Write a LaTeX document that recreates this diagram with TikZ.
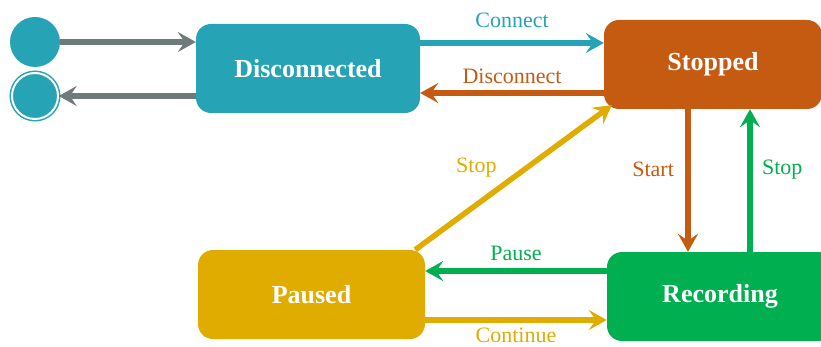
\documentclass[tikz,border=0pt]{standalone}
\usepackage{fontspec}
\setmainfont{Liberation Serif}
\usetikzlibrary{arrows.meta}

\definecolor{stateteal}{HTML}{26A3B5}
\definecolor{stateorange}{HTML}{C55A11}
\definecolor{stateyellow}{HTML}{E0AC00}
\definecolor{stategreen}{HTML}{00B050}
\definecolor{stategray}{HTML}{6F7B7A}

\begin{document}
\begin{tikzpicture}[
		x=1pt, y=-1pt,
		statebox/.style={
			rectangle,
			rounded corners=15pt,
			minimum height=89pt,
			text=white,
			font=\fontsize{26}{30}\selectfont\bfseries,
		},
		transition/.style={
			line width=5.5pt,
			-{Stealth[length=18pt, width=20pt, inset=7pt]},
		},
		tlabel/.style={
			font=\fontsize{22}{26}\selectfont,
		},
	]
		\useasboundingbox (0,0) rectangle (821,347);

		% start and end points
		\node[circle, fill=stateteal, minimum size=50pt, inner sep=0pt] (init) at (35,42) {};
		\node[circle, fill=stateteal, draw=stateteal, double=white, double distance=2pt,
			line width=1.5pt, minimum size=46pt, inner sep=0pt] (final) at (35,96) {};

		% states
		\node[statebox, fill=stateteal, minimum width=224pt] (disconnected) at (308,68.5) {Disconnected};
		\node[statebox, fill=stateorange, minimum width=218pt] (stopped) at (713,64.5) {Stopped};
		\node[statebox, fill=stateyellow, minimum width=227pt] (paused) at (311.5,294.5) {Paused};
		\node[statebox, fill=stategreen, minimum width=226pt] (recording) at (720,296.5) {Recording};

		% transitions
		\draw[transition, stategray] (init.east) -- ([yshift=26.5pt]disconnected.west);
		\draw[transition, stategray] ([yshift=-27.5pt]disconnected.west) -- (final.east);

		\draw[transition, stateteal] ([yshift=25.5pt]disconnected.east) -- ([yshift=21.5pt]stopped.west)
			node[tlabel, midway, above=9pt, text=stateteal] {Connect};
		\draw[transition, stateorange] ([yshift=-28.5pt]stopped.west) -- ([yshift=-24.5pt]disconnected.east)
			node[tlabel, midway, above=3pt, text=stateorange] {Disconnect};

		\draw[transition, stateorange] ([xshift=-25pt]stopped.south) -- ([xshift=-32pt]recording.north)
			node[tlabel, pos=0.42, left=8pt, text=stateorange] {Start};
		\draw[transition, stategreen] ([xshift=30pt]recording.north) -- ([xshift=37pt]stopped.south)
			node[tlabel, pos=0.58, right=6pt, text=stategreen] {Stop};

		\draw[transition, stategreen] ([yshift=25.5pt]recording.west) -- ([yshift=23.5pt]paused.east)
			node[tlabel, midway, above=4pt, text=stategreen] {Pause};
		\draw[transition, stateyellow] ([yshift=-25.5pt]paused.east) -- ([yshift=-23.5pt]recording.west)
			node[tlabel, midway, below=2pt, text=stateyellow] {Continue};

		\draw[transition, stateyellow] ([xshift=-10pt]paused.north east) -- ([shift={(8pt,4pt)}]stopped.south west)
			node[tlabel, pos=0.45, above left=1pt, text=stateyellow] {Stop};
	\end{tikzpicture}
\end{document}
